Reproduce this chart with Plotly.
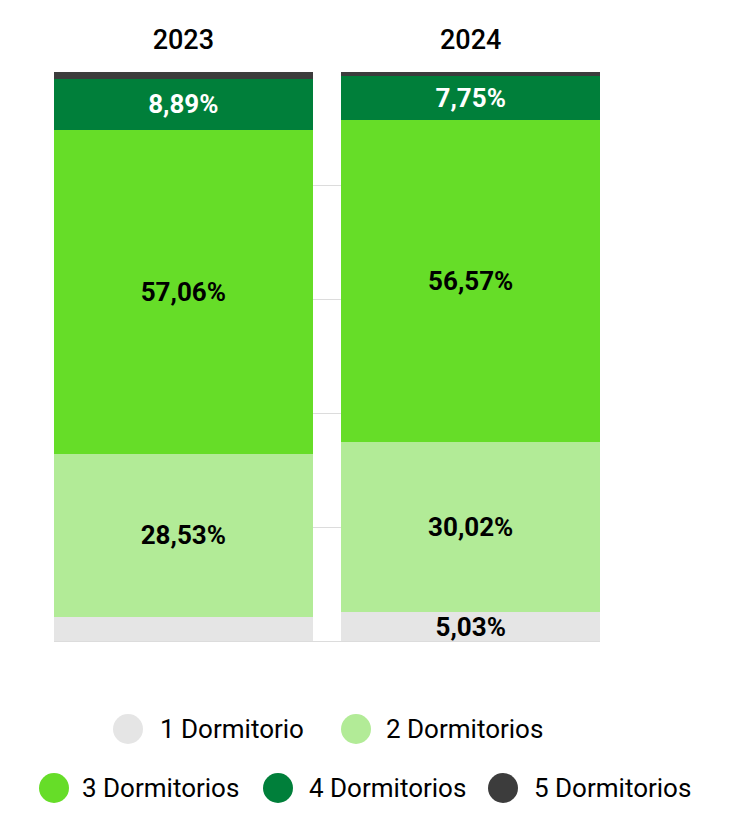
import plotly.graph_objects as go

# Data
years = ["2023", "2024"]
series_names = ["1 Dormitorio", "2 Dormitorios", "3 Dormitorios", "4 Dormitorios", "5 Dormitorios"]
dorm_1 = [4.3, 5.03]
dorm_2 = [28.53, 30.02]
dorm_3 = [57.06, 56.57]
dorm_4 = [8.89, 7.75]
dorm_5 = [1.22, 0.63]

colors = ["#e5e5e5", "#b2eb97", "#66dd28", "#007f3a", "#3c3c3c"]
label_colors = ["black", "black", "black", "white", "white"]


def fmt(v):
    # hide small segments like the original
    return f"{v:.2f}".replace(".", ",") + "%" if v >= 5 else ""


fig = go.Figure()
for name, vals, col, tcol in zip(series_names, [dorm_1, dorm_2, dorm_3, dorm_4, dorm_5], colors, label_colors):
    fig.add_trace(go.Bar(
        x=years, y=vals, name=name, marker=dict(color=col, line=dict(width=0)),
        width=0.9, text=[fmt(v) for v in vals], textposition="inside",
        insidetextanchor="middle", textangle=0, constraintext="none",
        textfont=dict(family="Roboto", size=26, color=tcol, weight="bold"),
        hoverinfo="skip", showlegend=False,
    ))

# page has an 8px body margin, so everything is placed 8px up/left
OFF = 8
W, H = 756, 831
L, R, T, B = 54 - OFF, 156 + OFF, 72 - OFF, 190 + OFF
pw, ph = W - L - R, H - T - B


def px(x):
    return (x - OFF - L) / pw


def py(y):
    return (H - B - (y - OFF)) / ph


# legend: circle centre x, text start x, row y (reference pixels)
legend_pos = [(128, 158, 729), (356, 384, 729), (54, 80, 788), (278, 307, 788), (503, 532, 788)]
for name, col, (cx, tx, ry) in zip(series_names, colors, legend_pos):
    fig.add_shape(type="circle", xref="paper", yref="paper", xsizemode="pixel", ysizemode="pixel",
                  xanchor=px(cx), yanchor=py(ry), x0=-15, x1=15, y0=-15, y1=15,
                  fillcolor=col, line=dict(width=0))
    fig.add_annotation(text=name, x=px(tx), y=py(ry), xref="paper", yref="paper",
                       xanchor="left", yanchor="middle", showarrow=False,
                       font=dict(family="Roboto", size=26, color="black"))

fig.update_layout(
    width=W, height=H, barmode="stack",
    margin=dict(l=L, r=R, t=T, b=B),
    paper_bgcolor="white", plot_bgcolor="white",
    font=dict(family="Roboto", color="black"),
    xaxis=dict(type="category", side="top", range=[-0.45, 1.45], showgrid=False,
               ticks="", ticklabelstandoff=17,
               tickfont=dict(size=27, color="black", weight=500),
               showline=False, zeroline=False),
    yaxis=dict(range=[0, 100], dtick=20, showticklabels=False, gridcolor="#dcdcdc",
               gridwidth=1, zeroline=True, zerolinecolor="#dcdcdc", zerolinewidth=1),
)

fig.write_html("out.html")
